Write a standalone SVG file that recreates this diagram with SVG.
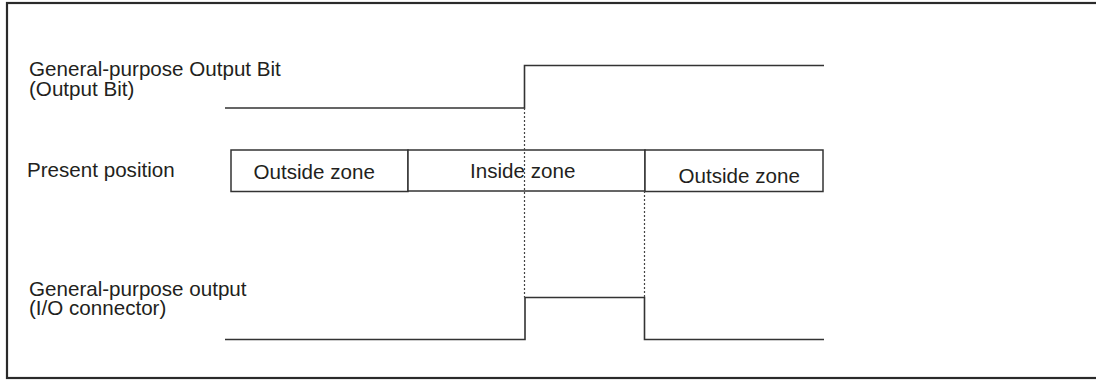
<svg xmlns="http://www.w3.org/2000/svg" width="1096" height="380" viewBox="0 0 1096 380">
<style>
text{font-family:"Liberation Sans",Arial,sans-serif;font-size:20.6px;fill:#231f20}
.sig{fill:none;stroke:#333;stroke-width:1.6}
.box{fill:#fff;stroke:#333;stroke-width:1.5}
.dot{fill:none;stroke:#444;stroke-width:1.2;stroke-dasharray:2 2}
</style>
<rect x="7" y="3" width="1100" height="375" fill="#fff" stroke="#2a2a2a" stroke-width="2.2"/>
<g id="labels">
<text x="29" y="76">General-purpose Output Bit</text>
<text x="29" y="95.5">(Output Bit)</text>
<text x="27" y="176.5">Present position</text>
<text x="29" y="296">General-purpose output</text>
<text x="29" y="314.5">(I/O connector)</text>
</g>
<g id="zone-outside-1">
<rect class="box" x="231" y="150" width="177" height="41.5"/>
<text x="253.5" y="178.5">Outside zone</text>
</g>
<g id="zone-inside">
<rect class="box" x="408" y="150" width="237" height="41"/>
<text x="470" y="178">Inside zone</text>
</g>
<g id="zone-outside-2">
<rect class="box" x="645" y="150" width="178" height="41.5"/>
<text x="678.5" y="183">Outside zone</text>
</g>
<g id="connectors">
<path class="sig" d="M225 108 H524.5 V65.5 H824"/>
<path class="sig" d="M225 339.5 H525 V297.5 H644.5 V339.5 H824"/>
<path class="dot" d="M524.5 108 V297.5"/>
<path class="dot" d="M644.5 191 V297.5"/>
</g>
</svg>
